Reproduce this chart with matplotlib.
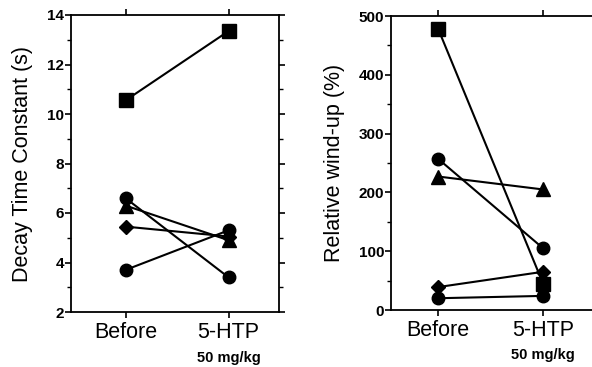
import matplotlib
matplotlib.use("Agg")
import matplotlib.pyplot as plt
from matplotlib.ticker import MultipleLocator

plt.rcParams['font.family'] = ['Liberation Sans', 'DejaVu Sans']

groups = ["Before", "5-HTP"]
dose_label = "50 mg/kg"

# decay time constant (s), before -> after, one row per animal
decay_markers = ["s", "o", "^", "D", "o"]
decay_before = [10.55, 6.6, 6.3, 5.45, 3.7]
decay_after = [13.35, 3.4, 4.9, 5.05, 5.3]

# relative wind-up (%)
windup_markers = ["s", "o", "^", "D", "o"]
windup_before = [478, 257, 227, 39, 20]
windup_after = [45, 105, 205, 65, 24]

marker_sizes = {"s": 10, "o": 9, "^": 10, "D": 7.5}

fig = plt.figure(figsize=(5.92, 3.67), dpi=100)
ax1 = fig.add_axes([71/592, 1-312/367, 208/592, 297/367])
ax2 = fig.add_axes([391/592, 1-310/367, 215/592, 294/367])


def draw(ax, before, after, markers):
    for b, a, m in zip(before, after, markers):
        ax.plot([0, 1], [b, a], color="black", lw=1.5, marker=m,
                ms=marker_sizes[m], mfc="black", mec="black", zorder=3)


def style(ax):
    for sp in ax.spines.values():
        sp.set_linewidth(1.3)
    ax.set_xticks([0, 1])
    ax.set_xticklabels(groups, fontsize=15.5)
    ax.tick_params(axis="x", which="both", direction="out", length=4, width=1.2,
                   top=True, bottom=True, pad=3)
    ax.tick_params(axis="y", which="major", direction="out", length=4, width=1.2,
                   labelsize=11, pad=1)
    ax.tick_params(axis="y", which="minor", direction="out", length=3, width=1.0)
    for lab in ax.get_yticklabels():
        lab.set_fontweight("bold")
    ax.text(1, -0.13, dose_label, transform=ax.get_xaxis_transform(),
            ha="center", va="top", fontsize=10.5, fontweight="bold")


draw(ax1, decay_before, decay_after, decay_markers)
ax1.set_xlim(-0.53, 1.49)
ax1.set_ylim(2, 14)
ax1.yaxis.set_major_locator(MultipleLocator(2))
ax1.yaxis.set_minor_locator(MultipleLocator(1))
ax1.tick_params(axis="y", which="both", right=True)
ax1.set_ylabel("Decay Time Constant (s)", fontsize=15.5, labelpad=10)
style(ax1)

draw(ax2, windup_before, windup_after, windup_markers)
ax2.set_xlim(-0.45, 1.6)
ax2.set_ylim(0, 500)
ax2.yaxis.set_major_locator(MultipleLocator(100))
ax2.yaxis.set_minor_locator(MultipleLocator(50))
ax2.set_ylabel("Relative wind-up (%)", fontsize=15.5, labelpad=10)
style(ax2)

fig.savefig("out.png", dpi=100)
